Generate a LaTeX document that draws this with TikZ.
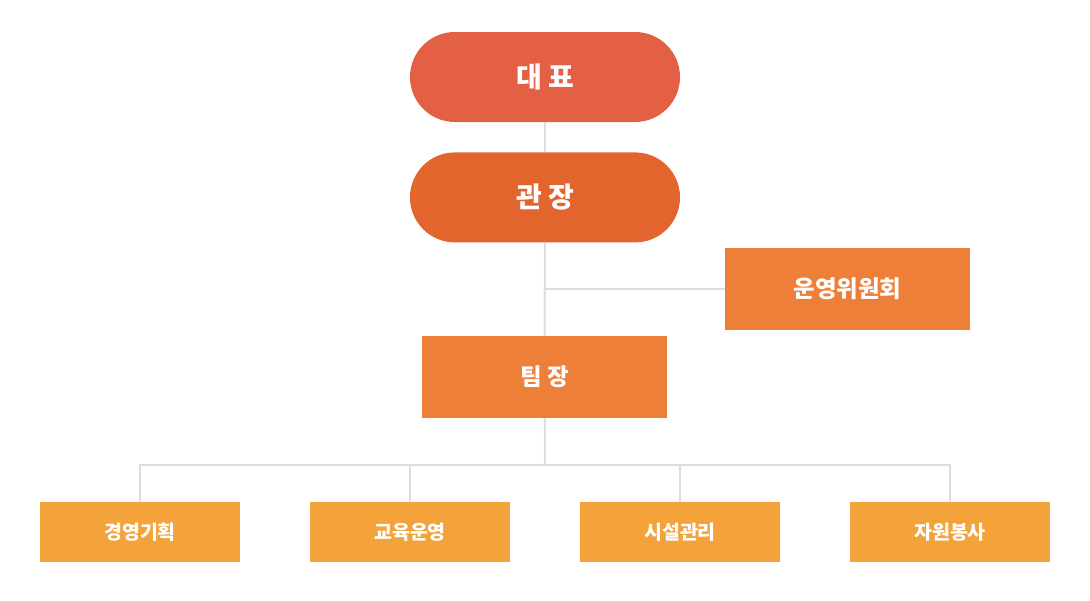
\documentclass[tikz,border=0pt]{standalone}
\usepackage{fontspec}
\newfontfamily\kr{Noto Sans CJK KR}
\usepackage{xcolor}
\usetikzlibrary{positioning}
\definecolor{headred}{HTML}{E36044}
\definecolor{headorange}{HTML}{E3652E}
\definecolor{midorange}{HTML}{ED7F38}
\definecolor{lowyellow}{HTML}{F3A33A}
\definecolor{linegray}{HTML}{DDDDDD}

\begin{document}
\begin{tikzpicture}[x=1pt, y=-1pt, every node/.style={font=\kr, text=white}, pill/.style={rectangle, rounded corners=44.9pt, minimum width=270pt, minimum height=90pt, inner sep=0pt, font=\kr\fontsize{28}{32}\selectfont\bfseries}, box/.style={rectangle, minimum width=245pt, minimum height=82pt, inner sep=0pt, fill=midorange, font=\kr\fontsize{23.5}{27}\selectfont\bfseries}, subbox/.style={rectangle, minimum width=200pt, minimum height=60pt, inner sep=0pt, fill=lowyellow, font=\kr\fontsize{19.5}{23}\selectfont\bfseries}, link/.style={draw=linegray, line width=2pt}]
\useasboundingbox (0,0) rectangle (1090,600);
\node[pill, fill=headred] (ceo) at (545,77) {대 표};
\node[pill, fill=headorange, below=30pt of ceo] (director) {관 장};
\node[box] (committee) at (847.5,289) {운영위원회};
\node[box] (leader) at (544.5,377) {팀 장};
\coordinate (bus) at (545,465);
\node[subbox] (plan) at (140,532) {경영기획};
\node[subbox] (edu) at (410,532) {교육운영};
\node[subbox] (facility) at (680,532) {시설관리};
\node[subbox] (volunteer) at (950,532) {자원봉사};
\draw[link] (ceo) -- (director);
\draw[link] (director) -- (leader);
\draw[link] (committee.west) -- (committee.west -| director);
\draw[link] (leader) -- (bus);
\foreach \team in {plan,edu,facility,volunteer}
  \draw[link] (bus) -| (\team);
\end{tikzpicture}
\end{document}
